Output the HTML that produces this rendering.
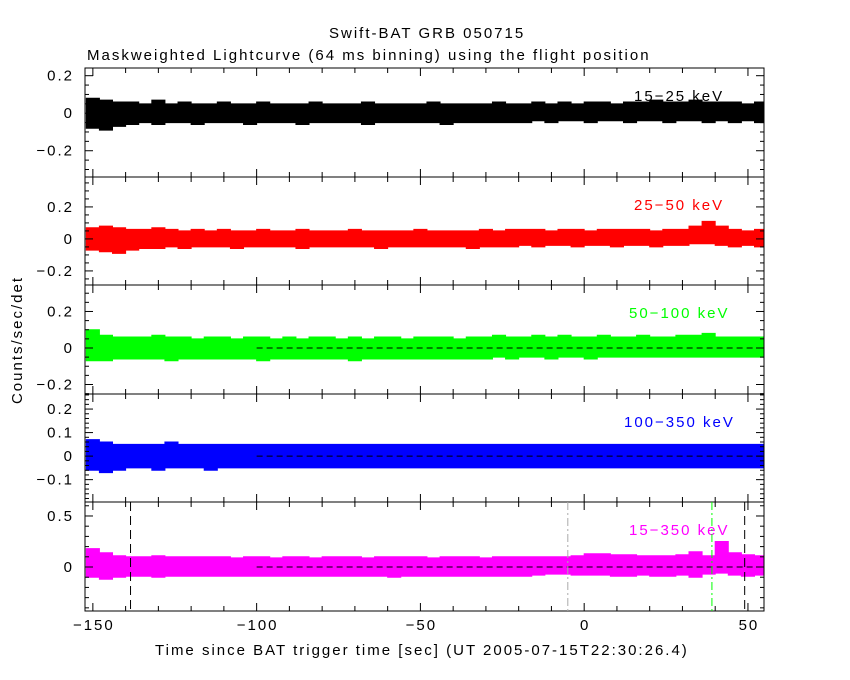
<!DOCTYPE html>
<html><head><meta charset="utf-8"><style>
html,body{margin:0;padding:0;background:#fff;}
svg{display:block;font-family:"Liberation Sans",sans-serif;}
svg text{letter-spacing:2px;}
</style></head><body>
<svg id="chart" width="850" height="680" viewBox="0 0 850 680" xmlns="http://www.w3.org/2000/svg">
<text x="329" y="38" font-size="15">Swift-BAT GRB 050715</text>
<text x="87" y="60" font-size="15">Maskweighted Lightcurve (64 ms binning) using the flight position</text>
<text x="0" y="0" font-size="15" text-anchor="middle" transform="translate(22,340) rotate(-90)">Counts/sec/det</text>
<text x="155" y="655" font-size="15">Time since BAT trigger time [sec] (UT 2005-07-15T22:30:26.4)</text>
<g id="panels"></g>
</svg>
<script>
const binStart = -152, binStep = 4;
const xTicks = [-150,-100,-50,0,50];
const hiBlack = [0.08,0.07,0.06,0.06,0.05,0.07,0.05,0.06,0.05,0.05,0.06,0.05,0.05,0.06,0.05,0.05,0.05,0.06,0.05,0.05,0.05,0.06,0.05,0.05,0.05,0.05,0.06,0.05,0.05,0.05,0.05,0.06,0.05,0.05,0.06,0.05,0.06,0.05,0.06,0.06,0.05,0.06,0.06,0.07,0.06,0.06,0.07,0.06,0.06,0.06,0.05,0.06];
const loBlack = [-0.08,-0.09,-0.07,-0.06,-0.05,-0.06,-0.05,-0.05,-0.06,-0.05,-0.05,-0.05,-0.06,-0.05,-0.05,-0.05,-0.06,-0.05,-0.05,-0.05,-0.05,-0.06,-0.05,-0.05,-0.05,-0.05,-0.05,-0.06,-0.05,-0.05,-0.05,-0.05,-0.05,-0.05,-0.04,-0.05,-0.04,-0.04,-0.05,-0.04,-0.04,-0.05,-0.04,-0.04,-0.05,-0.04,-0.04,-0.05,-0.04,-0.05,-0.04,-0.05];
const hiRed = [0.07,0.08,0.07,0.06,0.06,0.07,0.06,0.05,0.06,0.05,0.06,0.05,0.05,0.06,0.05,0.05,0.06,0.05,0.05,0.05,0.06,0.05,0.05,0.05,0.05,0.06,0.05,0.05,0.05,0.05,0.06,0.05,0.06,0.06,0.06,0.05,0.06,0.06,0.05,0.06,0.06,0.06,0.06,0.05,0.06,0.06,0.08,0.11,0.08,0.06,0.05,0.06];
const loRed = [-0.07,-0.08,-0.09,-0.07,-0.06,-0.06,-0.05,-0.06,-0.05,-0.05,-0.05,-0.06,-0.05,-0.05,-0.05,-0.05,-0.06,-0.05,-0.05,-0.05,-0.05,-0.05,-0.06,-0.05,-0.05,-0.05,-0.05,-0.05,-0.05,-0.06,-0.05,-0.05,-0.05,-0.04,-0.05,-0.04,-0.04,-0.05,-0.04,-0.04,-0.05,-0.04,-0.04,-0.05,-0.04,-0.04,-0.03,-0.03,-0.04,-0.05,-0.04,-0.05];
const hiGreen = [0.1,0.07,0.06,0.06,0.06,0.07,0.06,0.06,0.05,0.06,0.06,0.05,0.06,0.06,0.05,0.06,0.05,0.06,0.06,0.05,0.06,0.05,0.06,0.06,0.05,0.06,0.06,0.06,0.05,0.06,0.06,0.07,0.06,0.06,0.07,0.06,0.07,0.06,0.06,0.07,0.06,0.06,0.07,0.06,0.06,0.07,0.07,0.08,0.06,0.06,0.06,0.06];
const loGreen = [-0.07,-0.07,-0.06,-0.06,-0.06,-0.06,-0.07,-0.06,-0.06,-0.06,-0.06,-0.06,-0.06,-0.07,-0.06,-0.06,-0.06,-0.06,-0.06,-0.06,-0.07,-0.06,-0.06,-0.06,-0.06,-0.06,-0.06,-0.06,-0.06,-0.06,-0.06,-0.05,-0.06,-0.05,-0.05,-0.06,-0.05,-0.05,-0.06,-0.05,-0.05,-0.05,-0.05,-0.05,-0.05,-0.05,-0.05,-0.05,-0.05,-0.05,-0.05,-0.05];
const hiBlue = [0.07,0.06,0.05,0.05,0.05,0.05,0.06,0.05,0.05,0.05,0.05,0.05,0.05,0.05,0.05,0.05,0.05,0.05,0.05,0.05,0.05,0.05,0.05,0.05,0.05,0.05,0.05,0.05,0.05,0.05,0.05,0.05,0.05,0.05,0.05,0.05,0.05,0.05,0.05,0.05,0.05,0.05,0.05,0.05,0.05,0.05,0.05,0.05,0.05,0.05,0.05,0.05];
const loBlue = [-0.06,-0.07,-0.06,-0.05,-0.05,-0.06,-0.05,-0.05,-0.05,-0.06,-0.05,-0.05,-0.05,-0.05,-0.05,-0.05,-0.05,-0.05,-0.05,-0.05,-0.05,-0.05,-0.05,-0.05,-0.05,-0.05,-0.05,-0.05,-0.05,-0.05,-0.05,-0.05,-0.05,-0.05,-0.05,-0.05,-0.05,-0.05,-0.05,-0.05,-0.05,-0.05,-0.05,-0.05,-0.05,-0.05,-0.05,-0.05,-0.05,-0.05,-0.05,-0.05];
const hiMag = [0.18,0.14,0.11,0.1,0.1,0.11,0.1,0.1,0.1,0.1,0.1,0.09,0.1,0.1,0.09,0.1,0.1,0.09,0.1,0.1,0.1,0.09,0.1,0.1,0.1,0.1,0.09,0.1,0.1,0.1,0.09,0.1,0.1,0.1,0.1,0.1,0.1,0.11,0.13,0.13,0.12,0.12,0.11,0.11,0.11,0.12,0.15,0.11,0.25,0.14,0.12,0.11];
const loMag = [-0.1,-0.12,-0.1,-0.09,-0.09,-0.1,-0.09,-0.09,-0.09,-0.09,-0.09,-0.09,-0.09,-0.09,-0.09,-0.09,-0.09,-0.09,-0.09,-0.09,-0.09,-0.09,-0.09,-0.1,-0.09,-0.09,-0.09,-0.09,-0.09,-0.09,-0.09,-0.09,-0.09,-0.09,-0.08,-0.07,-0.07,-0.08,-0.08,-0.08,-0.09,-0.09,-0.08,-0.09,-0.09,-0.08,-0.1,-0.07,-0.06,-0.08,-0.09,-0.08];
const bandLabels = ["15-25 keV","25-50 keV","50-100 keV","100-350 keV","15-350 keV"];
const yTicks1 = [-0.2,0,0.2], yTicks4 = [-0.1,0,0.1,0.2], yTicks5 = [0,0.5];
const vLinesDash = [-138.5, 49];
const vLineGreen = [39];
const vLineGray = [-5];

const NS = "http://www.w3.org/2000/svg";
const X0 = 85, X1 = 764, T0 = -152.4, T1 = 54.9;
const xs = t => X0 + (t - T0) / (T1 - T0) * (X1 - X0);
const labelX = [634, 634, 629, 624, 629];
const panels = [
 {top:68,bot:177,ymax:0.241,ymin:-0.34,hi:hiBlack,lo:loBlack,col:"#000",ticks:yTicks1,minor:0.05,name:"15-25",zero:false},
 {top:177,bot:285,ymax:0.387,ymin:-0.288,hi:hiRed,lo:loRed,col:"#ff0000",ticks:yTicks1,minor:0.05,name:"25-50",zero:false},
 {top:285,bot:394,ymax:0.345,ymin:-0.252,hi:hiGreen,lo:loGreen,col:"#00ff00",ticks:yTicks1,minor:0.05,name:"50-100",zero:true},
 {top:394,bot:502,ymax:0.264,ymin:-0.195,hi:hiBlue,lo:loBlue,col:"#0000ff",ticks:yTicks4,minor:0.02,name:"100-350",zero:true},
 {top:502,bot:611,ymax:0.637,ymin:-0.431,hi:hiMag,lo:loMag,col:"#ff00ff",ticks:yTicks5,minor:0.1,name:"15-350",zero:true}
];
const g = document.getElementById("panels");
function mk(tag, attrs){const e=document.createElementNS(NS,tag);for(const k in attrs)e.setAttribute(k,attrs[k]);return e;}
panels.forEach((p, i) => {
  const ys = v => p.top + (p.ymax - v) / (p.ymax - p.ymin) * (p.bot - p.top);
  const pg = mk("g", {});
  
  
  g.appendChild(pg);
  let d = "";
  p.hi.forEach((v, k) => { const a = xs(Math.max(binStart + k*binStep, T0)), b = xs(Math.min(binStart + (k+1)*binStep, T1));
    d += (k === 0 ? "M" : "L") + a + "," + ys(v) + "L" + b + "," + ys(v); });
  for (let k = p.lo.length - 1; k >= 0; k--) { const a = xs(Math.max(binStart + k*binStep, T0)), b = xs(Math.min(binStart + (k+1)*binStep, T1));
    d += "L" + b + "," + ys(p.lo[k]) + "L" + a + "," + ys(p.lo[k]); }
  const band = mk("path", {d: d + "Z", fill: p.col, stroke: p.col, "stroke-width": 1});
  
  
  pg.appendChild(band);
  if (p.zero) {
    const zl = mk("line", {x1: xs(-100), x2: X1, y1: ys(0), y2: ys(0), stroke: "#000", "stroke-dasharray": "6,4"});
    
    
    pg.appendChild(zl);
  }
  const fr = mk("rect", {x: X0, y: p.top, width: X1 - X0, height: p.bot - p.top, fill: "none", stroke: "#000", "stroke-width": 1});
  
  
  pg.appendChild(fr);
  for (let t = -150; t <= 50; t += 10) {
    const L = (t % 50 === 0) ? 8 : 5;
    [[p.top, p.top + L], [p.bot, p.bot - L]].forEach(([a, b]) => pg.appendChild(mk("line", {x1: xs(t), x2: xs(t), y1: a, y2: b, stroke: "#000"})));
  }
  const n0 = Math.ceil(p.ymin / p.minor - 1e-9), n1 = Math.floor(p.ymax / p.minor + 1e-9);
  for (let n = n0; n <= n1; n++) {
    const v = n * p.minor, major = p.ticks.some(t => Math.abs(t - v) < 1e-6), L = major ? 8 : 4;
    pg.appendChild(mk("line", {x1: X0, x2: X0 + L, y1: ys(v), y2: ys(v), stroke: "#000"}));
    pg.appendChild(mk("line", {x1: X1, x2: X1 - L, y1: ys(v), y2: ys(v), stroke: "#000"}));
  }
  p.ticks.forEach(t => {
    const tx = mk("text", {x: 74, y: ys(t) + 5, "font-size": 15, "text-anchor": "end"});
    tx.textContent = t === 0 ? "0" : (t < 0 ? "\u2212" + (-t) : String(t));
    
    
    pg.appendChild(tx);
  });
  const lb = mk("text", {x: labelX[i], y: p.top + 33, "font-size": 15, fill: p.col});
  lb.textContent = bandLabels[i].replace("-", "\u2212");
  
  
  pg.appendChild(lb);
  if (i === 4) {
    vLinesDash.forEach(t => { const l = mk("line", {x1: xs(t), x2: xs(t), y1: p.top, y2: p.bot, stroke: "#000", "stroke-dasharray": "9,5"});
        pg.appendChild(l); });
    vLineGreen.forEach(t => { const l = mk("line", {x1: xs(t), x2: xs(t), y1: p.top, y2: p.bot, stroke: "#00ff00", "stroke-dasharray": "8,3,2,3"});
        pg.appendChild(l); });
    vLineGray.forEach(t => { const l = mk("line", {x1: xs(t), x2: xs(t), y1: p.top, y2: p.bot, stroke: "#aaaaaa", "stroke-dasharray": "8,3,2,3"});
        pg.appendChild(l); });
    xTicks.forEach(t => { const tx = mk("text", {x: xs(t) + 1, y: 630, "font-size": 15, "text-anchor": "middle"});
      tx.textContent = t < 0 ? "\u2212" + (-t) : String(t);
        pg.appendChild(tx); });
  }
});
</script>
</body></html>
